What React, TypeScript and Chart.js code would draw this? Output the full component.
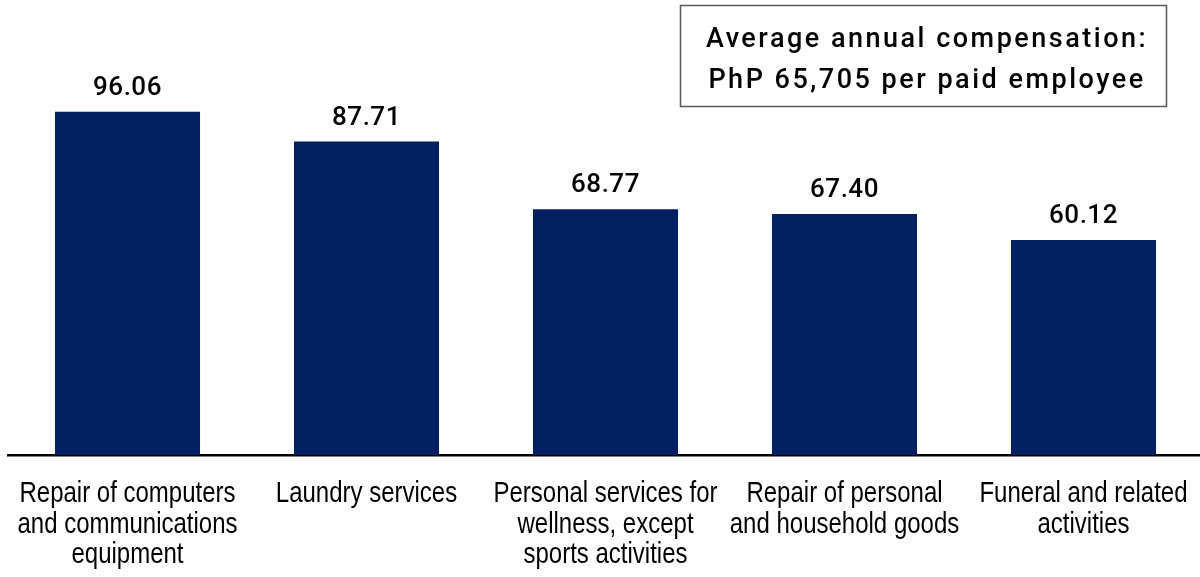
import React, { useEffect, useRef } from "react";
import { Chart, registerables } from "chart.js";

Chart.register(...registerables);

const categories: string[][] = [
  ["Repair of computers", "and communications", "equipment"],
  ["Laundry services"],
  ["Personal services for", "wellness, except", "sports activities"],
  ["Repair of personal", "and household goods"],
  ["Funeral and related", "activities"],
];
const values: number[] = [96.06, 87.71, 68.77, 67.4, 60.12];
const valueLabels: string[] = ["96.06", "87.71", "68.77", "67.40", "60.12"];
const noteLines: string[] = ["Average annual compensation:", "PhP 65,705 per paid employee"];

const BAR_COLOR = "#002060";

const valueLabelPlugin = {
  id: "valueLabels",
  afterDatasetsDraw(chart: any) {
    const ctx = chart.ctx as CanvasRenderingContext2D;
    const meta = chart.getDatasetMeta(0);
    ctx.save();
    ctx.font = "500 26px Roboto";
    (ctx as any).letterSpacing = "0.5px";
    ctx.fillStyle = "#000000";
    ctx.textAlign = "center";
    ctx.textBaseline = "alphabetic";
    meta.data.forEach((el: any, i: number) => {
      ctx.fillText(valueLabels[i], el.x, el.y - 17);
    });
    ctx.restore();
  },
};

const categoryLabelPlugin = {
  id: "categoryLabels",
  afterDraw(chart: any) {
    const ctx = chart.ctx as CanvasRenderingContext2D;
    const xScale = chart.scales.x;
    const base = chart.chartArea.bottom;
    const sx = 0.8;
    ctx.save();
    ctx.font = "30px 'Liberation Sans', Arial";
    ctx.fillStyle = "#000000";
    ctx.textAlign = "center";
    ctx.textBaseline = "alphabetic";
    categories.forEach((lines, i) => {
      const cx = xScale.getPixelForValue(i);
      lines.forEach((line, j) => {
        ctx.save();
        ctx.translate(cx, base + 47 + j * 30.5);
        ctx.scale(sx, 1);
        ctx.fillText(line, 0, 0);
        ctx.restore();
      });
    });
    ctx.restore();
  },
};

const noteBoxPlugin = {
  id: "noteBox",
  afterDraw(chart: any) {
    const ctx = chart.ctx as CanvasRenderingContext2D;
    ctx.save();
    ctx.strokeStyle = "#595959";
    ctx.lineWidth = 1.5;
    ctx.strokeRect(680.5, 5.5, 486, 101);
    ctx.font = "500 27px Roboto";
    (ctx as any).letterSpacing = "2.5px";
    ctx.fillStyle = "#000000";
    ctx.textAlign = "center";
    ctx.textBaseline = "alphabetic";
    ctx.fillText(noteLines[0], 927, 47);
    ctx.fillText(noteLines[1], 927, 88);
    ctx.restore();
  },
};

export default function App() {
  const ref = useRef<HTMLCanvasElement | null>(null);
  useEffect(() => {
    if (!ref.current) return;
    const chart = new Chart(ref.current, {
      type: "bar",
      data: {
        labels: categories,
        datasets: [
          {
            data: values,
            backgroundColor: BAR_COLOR,
            borderWidth: 0,
            barPercentage: 0.607,
            categoryPercentage: 1,
          },
        ],
      },
      options: {
        responsive: false,
        animation: false,
        devicePixelRatio: 1,
        layout: { padding: { left: 8, right: 0, top: 0, bottom: 122 } },
        plugins: {
          legend: { display: false },
          tooltip: { enabled: false },
        },
        scales: {
          x: {
            grid: { display: false, drawTicks: false, tickLength: 0 },
            border: { display: true, color: "#000000", width: 2.5 },
            ticks: { display: false },
          },
          y: {
            display: false,
            min: 0,
            max: 127.3,
          },
        },
      },
      plugins: [valueLabelPlugin, categoryLabelPlugin, noteBoxPlugin],
    });
    return () => chart.destroy();
  }, []);
  return (
    <div style={{ position: "absolute", left: 0, top: 0, width: 1200, height: 577, overflow: "hidden", background: "#ffffff" }}>
      <canvas ref={ref} width={1203} height={577} style={{ width: 1203, height: 577, display: "block" }} />
    </div>
  );
}
